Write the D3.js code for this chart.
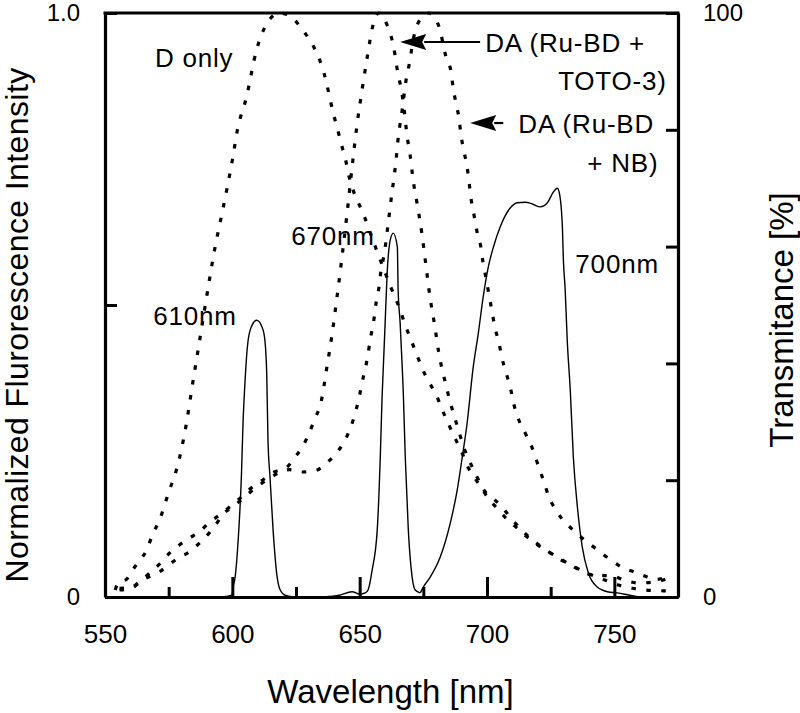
<!DOCTYPE html>
<html>
<head>
<meta charset="utf-8">
<script src="https://cdn.jsdelivr.net/npm/d3@7"></script>
<style>
  html, body { margin: 0; padding: 0; background: #fff; }
  svg { display: block; font-family: "Liberation Sans", Arial, Helvetica, sans-serif; }
</style>
</head>
<body>
<svg id="chart" width="800" height="713"></svg>
<script>
// ---------------- DATA ----------------
const wavelengthMajorTicks = [550, 600, 650, 700, 750];
const wavelengthMinorTicks = [575, 625, 675, 725];
const intensityTicks = [0, 0.5, 1.0];
const intensityTickLabels = ["0", "", "1.0"];
const transmittanceTicks = [0, 20, 40, 60, 80, 100];
const transmittanceTickLabels = ["0", "", "", "", "", "100"];

// Normalized fluorescence (left axis) [wavelength nm, intensity]
const dOnly = [
  [554,0.012],[555.5,0.026],[558.4,0.030],[559.6,0.038],[562.7,0.058],[566.3,0.080],[568.6,0.106],
  [571.4,0.132],[575.3,0.183],[578,0.217],[582,0.298],[584,0.354],[587,0.435],[591,0.543],
  [593,0.594],[596,0.658],[600,0.748],[602,0.800],[605.5,0.855],[609.4,0.935],[613.7,0.983],
  [618.5,1.0],[623,0.994],[625.5,0.983],[628.3,0.967],[632.2,0.940],[635,0.911],[636.9,0.882],
  [638.2,0.856],[639.6,0.829],[641.2,0.803],[642.7,0.777],[644.5,0.748],[645.9,0.719],
  [647.8,0.692],[649.8,0.672],[651.8,0.652],[655.7,0.605],[659.6,0.560],[662.4,0.529],
  [664.7,0.505],[666.3,0.486],[668.2,0.462],[670.2,0.440],[672.5,0.414],[674.5,0.392],
  [677.2,0.368],[680,0.347],[682,0.325],[685,0.295],[687.8,0.269],[690.2,0.247],[692.2,0.225],
  [694.9,0.206],[697.6,0.188],[700,0.172],[703.5,0.154],[707.5,0.135],[711.8,0.118],
  [715.7,0.103],[719.6,0.090],[724.3,0.077],[728.2,0.067],[732.9,0.055],[737.3,0.045],
  [742,0.036],[747,0.028],[752,0.020],[757,0.015],[762,0.012],[767,0.011],[772,0.010]
];
const daToto3 = [
  [555.7,0.015],[560.4,0.017],[563.5,0.026],[567.5,0.041],[572.2,0.060],[575.3,0.075],
  [579.2,0.089],[583.1,0.101],[587,0.111],[591,0.128],[594.9,0.140],[600,0.158],[603.5,0.171],
  [607.5,0.187],[611.8,0.200],[616.5,0.214],[621.6,0.223],[624.3,0.238],[627.5,0.257],
  [630.2,0.281],[632.2,0.303],[635,0.337],[637,0.390],[639,0.445],[641,0.510],[643,0.580],
  [645,0.655],[647,0.735],[649,0.810],[651,0.870],[653,0.925],[655,0.975],[657.5,1.0],
  [660.8,0.979],[662.7,0.954],[663.9,0.928],[664.9,0.899],[666.3,0.870],[667.5,0.834],
  [668.6,0.790],[669.8,0.757],[670.6,0.728],[671.4,0.702],[672.5,0.675],[674.5,0.620],
  [676.1,0.565],[677.6,0.514],[679.6,0.461],[681,0.420],[682.4,0.389],[683.9,0.363],
  [685.1,0.341],[687,0.312],[689,0.283],[691,0.255],[692.9,0.235],[695.7,0.209],[698.8,0.183],
  [702.7,0.168],[706.7,0.150],[709.4,0.135],[712.5,0.120],[715.7,0.106],[720.4,0.089],
  [724.3,0.077],[728,0.066],[732.9,0.055],[736.9,0.045],[741.2,0.038],[745,0.037],[749,0.036],
  [754.5,0.028],[759.6,0.024],[766.3,0.026],[771,0.032]
];
const daNB = [
  [555.7,0.012],[560.4,0.015],[564.7,0.029],[571.4,0.043],[575,0.055],[579.2,0.068],
  [583.1,0.077],[587,0.092],[591,0.110],[594,0.127],[596,0.140],[600,0.154],[604,0.168],
  [608,0.183],[612,0.196],[616,0.207],[619,0.215],[622.4,0.218],[627.5,0.214],[633,0.217],
  [636.9,0.229],[640,0.242],[643.1,0.260],[645.5,0.280],[647.8,0.308],[649.8,0.342],
  [651,0.368],[652.5,0.397],[654.5,0.449],[655.7,0.478],[656.5,0.505],[657.6,0.531],
  [658.4,0.560],[659.6,0.586],[661.2,0.640],[662.7,0.693],[663.5,0.719],[664.3,0.748],
  [664.9,0.777],[665.7,0.805],[666.7,0.834],[668.2,0.885],[669.4,0.911],[671.4,0.962],
  [674.1,0.991],[677.3,1.0],[678.4,0.997],[681.2,0.976],[683.9,0.925],[685.9,0.899],
  [686.7,0.872],[687.8,0.846],[689,0.820],[689.8,0.791],[691,0.762],[692.2,0.736],[693,0.709],
  [693.7,0.683],[694.9,0.654],[696.1,0.625],[697.6,0.599],[698.4,0.574],[699.6,0.546],
  [700.8,0.517],[702,0.488],[703.1,0.462],[704.7,0.435],[705.9,0.409],[707.5,0.384],
  [709.4,0.354],[710.6,0.329],[712.5,0.303],[715.3,0.278],[718.4,0.248],[720.4,0.221],
  [722.4,0.197],[724.3,0.171],[727.1,0.149],[729.4,0.134],[733,0.118],[737.3,0.101],
  [741.2,0.088],[745.9,0.072],[749,0.062],[753,0.051],[758.4,0.042],[762.4,0.035],
  [766.3,0.030],[770.6,0.034]
];

// Filter transmittance (right axis) [wavelength nm, %]
const filter610 = [
  [596,0],[599.9,0.3],[600.3,1.7],[601.1,3.4],[602.3,9.8],[603.6,21.2],[604.2,29.8],
  [604.8,35.4],[605.8,42.3],[607.0,45.7],[609.6,47.4],[612.1,45.7],[613.1,42.3],[613.5,38.4],
  [614.0,26.9],[614.8,20.5],[616.0,11.5],[617.6,3.4],[618.8,1.2],[620.7,0.3],[624,0]
];
const filter670 = [
  [636,0],[642,0.3],[647,0.9],[650,0.5],[652.2,0.7],[653.3,1.2],[654.9,4.6],[656.9,11.5],
  [658.1,24.0],[658.8,34.2],[659.2,38.4],[660.0,46.9],[660.8,55.5],[662.0,61.1],[663.2,62.3],
  [664.8,59.9],[665.1,52.6],[665.9,46.9],[666.7,39.4],[667.1,35.4],[667.9,24.0],[669.1,11.5],
  [670.6,3.4],[671.8,1.2],[673.8,0.7]
];
const filter700 = [
  [673.8,0.7],[675.0,1.7],[677.7,3.4],[681.6,6.8],[685.6,12.7],[688.3,18.3],[690.3,24.0],
  [692.2,29.8],[694.6,39.4],[696.6,45.2],[698.5,51.4],[700.5,56.5],[702.5,59.9],[705.2,63.4],
  [709.1,66.6],[711.9,67.5],[715.0,67.6],[717.8,67.3],[720.9,66.8],[723.7,67.5],[726.0,69.3],
  [727.6,70.0],[728.4,69.2],[729.6,63.4],[730.0,57.7],[730.7,52.6],[731.5,44.0],[732.7,35.4],
  [733.9,24.0],[735.5,15.4],[737.4,8.6],[739.8,4.1],[743.3,1.7],[747.3,0.9],[751.2,0.7],[756,0.3],[760,0]
];

// Annotations: [text, wavelength, intensity, anchor]
const labels = [
  ["D only", 569.6, 0.9075, "start"],
  ["670nm", 623.1, 0.6027, "start"],
  ["610nm", 568.9, 0.4658, "start"],
  ["700nm", 734.7, 0.5548, "start"],
  ["DA (Ru-BD +", 699.3, 0.9332, "start"],
  ["TOTO-3)", 770.6, 0.8682, "end"],
  ["DA (Ru-BD", 712.3, 0.7945, "start"],
  ["+ NB)", 767.3, 0.7277, "end"]
];
// Arrows: [from wavelength, to (tip) wavelength, intensity]
const arrows = [
  [697.3, 665.9, 0.9503],
  [706.4, 693.4, 0.8116]
];

// ---------------- DRAW ----------------
const svg = d3.select("#chart");
const L = 105, R = 678, T = 13, B = 597;

const x = d3.scaleLinear().domain([550, 775]).range([L, R]);
const y = d3.scaleLinear().domain([0, 1]).range([B, T]);
const yR = d3.scaleLinear().domain([0, 100]).range([B, T]);

svg.append("rect").attr("width", 800).attr("height", 713).attr("fill", "#fff");

// curves
const lineI = d3.line().x(d => x(d[0])).y(d => y(d[1])).curve(d3.curveMonotoneX);
const lineT = d3.line().x(d => x(d[0])).y(d => yR(d[1])).curve(d3.curveMonotoneX);

[dOnly, daToto3, daNB].forEach(s => {
  svg.append("path").attr("d", lineI(s))
    .attr("fill", "none").attr("stroke", "#000")
    .attr("stroke-width", 3.2).attr("stroke-dasharray", "4.5 10.5");
});
[filter610, filter670, filter700].forEach(s => {
  svg.append("path").attr("d", lineT(s))
    .attr("fill", "none").attr("stroke", "#000").attr("stroke-width", 1.4);
});

// axes
const axisStyle = g => {
  g.select(".domain").attr("stroke-width", 3.2);
  g.selectAll(".tick line").attr("stroke-width", 3);
  g.selectAll("text").attr("fill", "#000");
};

svg.append("g").attr("transform", `translate(0,${B})`)
  .call(d3.axisBottom(x).tickValues(wavelengthMinorTicks).tickSize(-10).tickSizeOuter(0).tickFormat(""))
  .call(axisStyle);
svg.append("g").attr("transform", `translate(0,${B})`)
  .call(d3.axisBottom(x).tickValues(wavelengthMajorTicks).tickSize(-20).tickSizeOuter(0).tickPadding(28))
  .call(axisStyle)
  .selectAll("text").attr("font-size", 26);

svg.append("g").attr("transform", `translate(${L},0)`)
  .call(d3.axisLeft(y).tickValues(intensityTicks).tickSize(-12).tickSizeOuter(0).tickPadding(25)
    .tickFormat((d, i) => intensityTickLabels[i]))
  .call(axisStyle)
  .selectAll("text").attr("font-size", 24);

svg.append("g").attr("transform", `translate(${R},0)`)
  .call(d3.axisRight(yR).tickValues(transmittanceTicks).tickSize(-12).tickSizeOuter(0).tickPadding(25)
    .tickFormat((d, i) => transmittanceTickLabels[i]))
  .call(axisStyle)
  .selectAll("text").attr("font-size", 24);

// top border
svg.append("line").attr("x1", L - 1.5).attr("x2", R + 1.5).attr("y1", T).attr("y2", T)
  .attr("stroke", "#000").attr("stroke-width", 3.2);

// axis titles
svg.append("text").attr("x", (L + R) / 2 - 1).attr("y", 703)
  .attr("text-anchor", "middle").attr("font-size", 33).text("Wavelength [nm]");
svg.append("text").attr("transform", `translate(28,325) rotate(-90)`)
  .attr("text-anchor", "middle").attr("font-size", 32).attr("letter-spacing", 0.4)
  .text("Normalized Flurorescence Intensity");
svg.append("text").attr("transform", `translate(793,320) rotate(-90)`)
  .attr("text-anchor", "middle").attr("font-size", 33).text("Transmitance [%]");

// annotations
labels.forEach(([t, wl, v, anchor]) => {
  svg.append("text").attr("x", x(wl)).attr("y", y(v))
    .attr("text-anchor", anchor).attr("font-size", 26).attr("letter-spacing", 0.8).text(t);
});

// arrows
arrows.forEach(([from, to, v]) => {
  const x0 = x(from), x1 = x(to), yy = y(v);
  const headLen = 26, headHalf = 8;
  svg.append("line").attr("x1", x0).attr("x2", x1 + headLen - 2).attr("y1", yy).attr("y2", yy)
    .attr("stroke", "#000").attr("stroke-width", 2.2);
  svg.append("path")
    .attr("d", `M${x1},${yy} L${x1 + headLen},${yy - headHalf} L${x1 + headLen - 4},${yy} L${x1 + headLen},${yy + headHalf} Z`)
    .attr("fill", "#000");
});
</script>
</body>
</html>
